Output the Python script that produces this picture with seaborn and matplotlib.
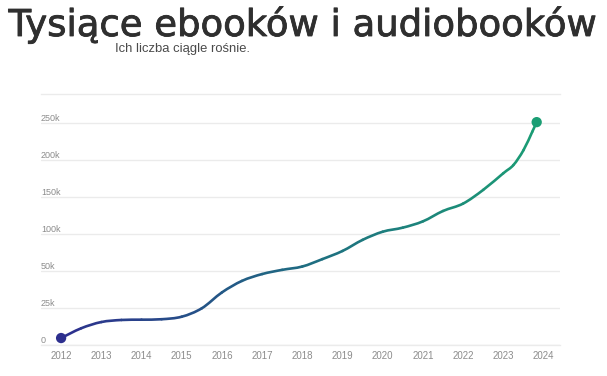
import numpy as np
import pandas as pd
import matplotlib
matplotlib.use("Agg")
import matplotlib.pyplot as plt
import matplotlib.patheffects as pe
import seaborn as sns
from matplotlib.path import Path
from matplotlib.patches import PathPatch
from matplotlib.colors import LinearSegmentedColormap

# ---- data ----
years = [2012.0, 2012.5, 2013.0, 2013.5, 2014.0, 2014.5, 2015.0, 2015.5,
         2016.0, 2016.5, 2017.0, 2017.5, 2018.0, 2018.5, 2019.0, 2019.5,
         2020.0, 2020.5, 2021.0, 2021.5, 2022.0, 2022.5, 2023.0, 2023.25,
         2023.5, 2023.72, 2023.83]
titles = [4700, 11300, 15500, 16900, 17100, 17400, 19100, 24800,
          35500, 43300, 47900, 51500, 56000, 66000, 77000, 92000,
          103000, 108500, 117000, 131000, 141000, 159500, 182000, 193000,
          213000, 238000, 251000]
xtick_years = list(range(2012, 2025))
ytick_values = [0, 25000, 50000, 100000, 150000, 200000, 250000]
ytick_labels = ["0", "25k", "50k", "100k", "150k", "200k", "250k"]

title_text = "Tysiące ebooków i audiobooków"
subtitle_text = "Ich liczba ciągle rośnie."

df = pd.DataFrame({"year": years, "titles": titles})

sns.set_theme(style="white")
plt.rcParams["font.family"] = ["Liberation Sans", "DejaVu Sans"]

W, H = 607, 376
fig = plt.figure(figsize=(W / 100, H / 100), dpi=100)
ax = fig.add_axes([41 / W, 1 - 345 / H, (560 - 41) / W, (345 - 94) / H])

def fwd(v):
    v = np.asarray(v, dtype=float)
    return np.where(v <= 50000, v / 25000.0, 2 + (v - 50000) / 50000.0)

def inv(u):
    u = np.asarray(u, dtype=float)
    return np.where(u <= 2, u * 25000.0, 50000 + (u - 2) * 50000.0)

ax.set_yscale("function", functions=(fwd, inv))
ax.set_xlim(2011.5, 2024.41)
ax.set_ylim(0, 289000)

grid_c = "#ebebeb"
ax.set_yticks(ytick_values)
ax.set_yticklabels(ytick_labels)
ax.set_xticks(xtick_years)
ax.set_xticklabels([str(y) for y in xtick_years])
ax.grid(axis="y", color=grid_c, linewidth=1)
ax.grid(axis="x", visible=False)
for s in ["left", "right"]:
    ax.spines[s].set_visible(False)
for s in ["top", "bottom"]:
    ax.spines[s].set_color(grid_c)
    ax.spines[s].set_linewidth(1)

ax.tick_params(axis="y", length=0, pad=0, labelsize=6.5, labelcolor="#8c8c8c")
ax.tick_params(axis="x", length=0, pad=4, labelsize=7, labelcolor="#8c8c8c")
for lab in ax.get_yticklabels():
    lab.set_ha("left")
    lab.set_va("bottom")

# smooth gradient line (Catmull-Rom drawn as cubic Beziers in scaled space)
cmap = LinearSegmentedColormap.from_list("g", ["#2d2f8e", "#1f6c82", "#1b9e74"])
norm = plt.Normalize(2012, 2024)
xs = df["year"].values.astype(float)
ys = fwd(df["titles"].values)
P = np.column_stack([xs, ys])
P_ext = np.vstack([P[0], P, P[-1]])
seg_tf = ax.transLimits + ax.transAxes  # scaled coordinates -> display
n = len(P)
for i in range(n - 1):
    p0, p1, p2, p3 = P_ext[i], P_ext[i + 1], P_ext[i + 2], P_ext[i + 3]
    c1 = p1 + (p2 - p0) / 6.0
    c2 = p2 - (p3 - p1) / 6.0
    path = Path([p1, c1, c2, p2], [Path.MOVETO, Path.CURVE4, Path.CURVE4, Path.CURVE4])
    col = cmap(norm((p1[0] + p2[0]) / 2))
    ax.add_patch(PathPatch(path, facecolor="none", edgecolor=col, linewidth=1.9,
                           capstyle="round", joinstyle="round", transform=seg_tf,
                           zorder=3))

ends = df.iloc[[0, -1]].copy()
ends["c"] = ["start", "end"]
sns.scatterplot(data=ends, x="year", y="titles", hue="c",
                palette={"start": "#2d2f8e", "end": "#1b9e74"},
                s=55, edgecolor="none", legend=False, ax=ax, zorder=4,
                clip_on=False)
ax.set_xlabel("")
ax.set_ylabel("")

# title + subtitle, fitted to measured width
title_c = "#2f2f2f"
t = fig.text(8.5 / W, 1 - 36 / H, title_text, fontsize=26, color=title_c,
             family=["DejaVu Sans"], va="baseline",
             path_effects=[pe.withStroke(linewidth=0.6, foreground=title_c)])
st = fig.text(115 / W, 1 - 52 / H, subtitle_text, fontsize=8.5, color="#4a4a4a",
              family=["Liberation Sans Narrow", "Liberation Sans"], va="baseline")
fig.canvas.draw()
r = fig.canvas.get_renderer()
for txt, target in [(t, 588), (st, 134)]:
    w = txt.get_window_extent(r).width
    txt.set_fontsize(txt.get_fontsize() * target / w)

fig.savefig("out.png", dpi=100, facecolor="white")
